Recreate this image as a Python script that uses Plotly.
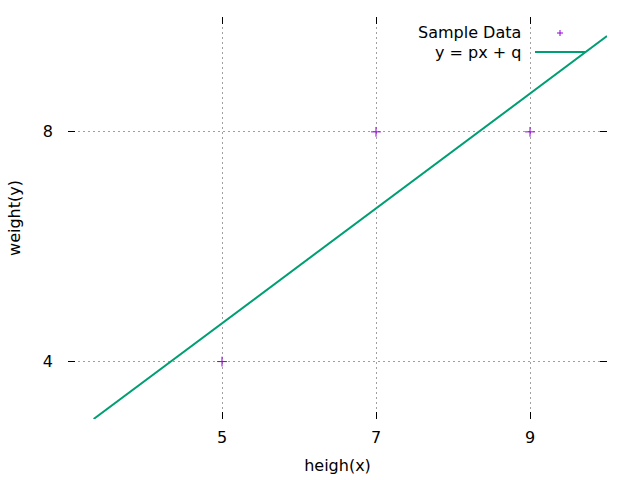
import plotly.graph_objects as go

# Sample data
heights = [5, 7, 9]
weights = [4, 8, 8]

# Fitted line y = p*x + q (endpoints)
fit_x = [3.333, 10.0]
fit_y = [3.0, 9.667]

x_ticks = [5, 7, 9]
y_ticks = [4, 8]

PURPLE = "#9400d3"
GREEN = "#009e73"
FONT = dict(family="DejaVu Sans", size=16, color="#000000")

fig = go.Figure()
fig.add_trace(go.Scatter(
    x=fit_x, y=fit_y, mode="lines", name="y = px + q",
    line=dict(color=GREEN, width=2), showlegend=False))
fig.add_trace(go.Scatter(
    x=heights, y=weights, mode="markers", name="Sample Data",
    marker=dict(symbol="cross-thin", size=7, line=dict(color=PURPLE, width=1), color=PURPLE),
    showlegend=False))

L, R, T, B = 68, 33, 17, 61
W, H = 640, 480
pw, ph = W - L - R, H - T - B
def px(x):
    return (x - L) / pw
def py(y):
    return (H - B - y) / ph

axis_common = dict(
    showline=False, zeroline=False, automargin=False,
    ticks="inside", ticklen=7, tickcolor="black", mirror="ticks",
    showgrid=True, gridcolor="#a0a0a0", griddash="2px,3px", gridwidth=1,
    tickfont=FONT,
)

fig.update_layout(
    width=W, height=H,
    margin=dict(l=L, r=R, t=T, b=B),
    plot_bgcolor="white", paper_bgcolor="white",
    font=FONT,
    xaxis=dict(range=[3, 10], tickvals=x_ticks,
               title=dict(text="heigh(x)", standoff=13, font=FONT), ticklabelstandoff=7,
               **axis_common),
    yaxis=dict(range=[3, 10], tickvals=y_ticks,
               title=dict(text="weight(y)", standoff=18, font=FONT), ticklabelstandoff=14,
               **axis_common),
    annotations=[
        dict(text="Sample Data", x=px(523), y=py(32), xref="paper", yref="paper",
             xanchor="right", yanchor="middle", showarrow=False, font=FONT),
        dict(text="y = px + q", x=px(523), y=py(52), xref="paper", yref="paper",
             xanchor="right", yanchor="middle", showarrow=False, font=FONT),
    ],
    shapes=[
        dict(type="line", xref="paper", yref="paper", x0=px(535), x1=px(585),
             y0=py(52), y1=py(52), line=dict(color=GREEN, width=2)),
        dict(type="line", xref="paper", yref="paper", x0=px(557), x1=px(563),
             y0=py(33), y1=py(33), line=dict(color=PURPLE, width=1)),
        dict(type="line", xref="paper", yref="paper", x0=px(560), x1=px(560),
             y0=py(30), y1=py(36), line=dict(color=PURPLE, width=1)),
    ],
)

fig.write_html("out.html")
